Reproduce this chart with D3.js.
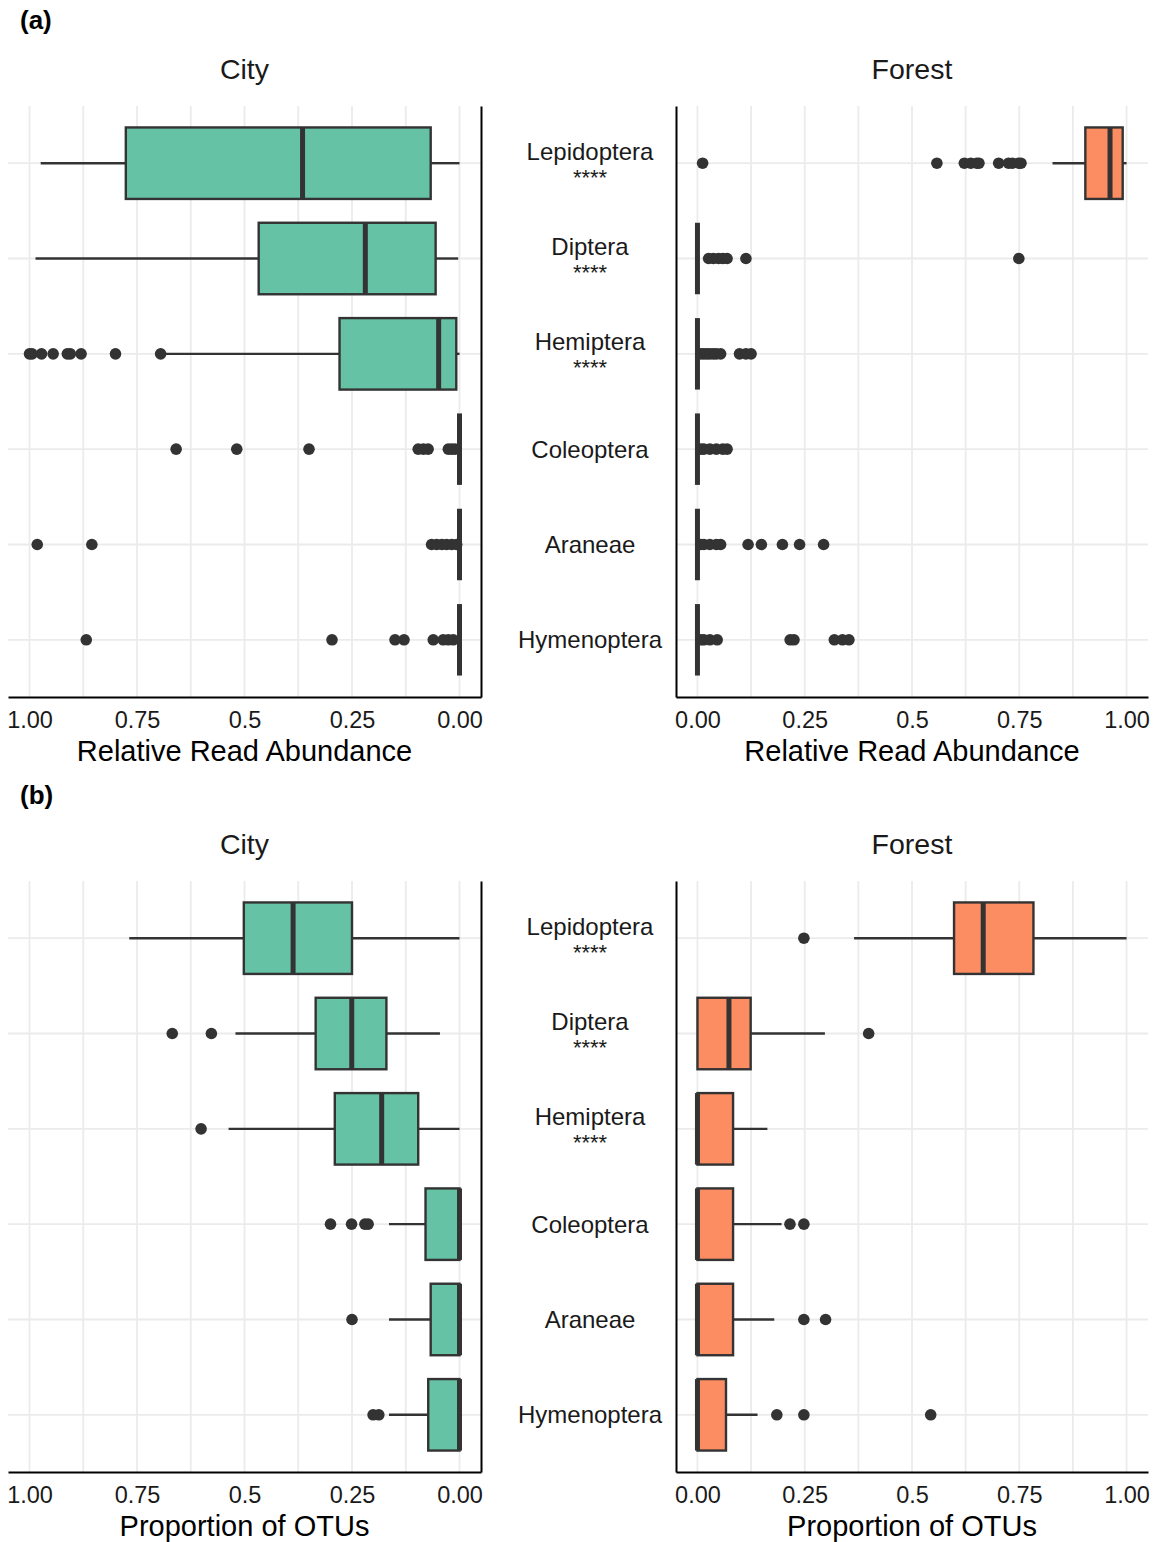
<!DOCTYPE html>
<html>
<head>
<meta charset="utf-8">
<script src="https://cdn.jsdelivr.net/npm/d3@7"></script>
<style>
  body { margin: 0; background: #fff; }
  svg { display: block; font-family: "Liberation Sans", Arial, Helvetica, sans-serif; }
</style>
</head>
<body>
<svg id="chart" width="1159" height="1542"></svg>
<script>
// ---------------- DATA ----------------
const categories = ["Lepidoptera", "Diptera", "Hemiptera", "Coleoptera", "Araneae", "Hymenoptera"];
const significance = ["****", "****", "****", "", "", ""];
const panelTitles = ["City", "Forest"];
const majorTicks = [0, 0.25, 0.5, 0.75, 1];
const majorTickLabels = ["0.00", "0.25", "0.5", "0.75", "1.00"];
const minorTicks = [0.125, 0.375, 0.625, 0.875];

// box stats: [lower whisker, Q1, median, Q3, upper whisker]
// (a) Relative Read Abundance
const abundCityStats = [
  [0.000, 0.067, 0.365, 0.776, 0.974],
  [0.003, 0.0555, 0.219, 0.467, 0.986],
  [0.000, 0.0075, 0.0485, 0.279, 0.685],
  [0, 0, 0, 0, 0],
  [0, 0, 0, 0, 0],
  [0, 0, 0, 0, 0]
];
const abundCityOutliers = [
  [],
  [],
  [0.695, 0.80, 0.88, 0.905, 0.912, 0.945, 0.972, 0.994, 1.0],
  [0.0105, 0.018, 0.026, 0.073, 0.084, 0.096, 0.350, 0.518, 0.659],
  [0.0065, 0.018, 0.030, 0.041, 0.053, 0.065, 0.855, 0.982],
  [0.0145, 0.026, 0.038, 0.061, 0.129, 0.150, 0.2965, 0.868]
];
const abundForestStats = [
  [0.8275, 0.904, 0.9615, 0.991, 1.0],
  [0, 0, 0, 0, 0],
  [0, 0, 0, 0, 0],
  [0, 0, 0, 0, 0],
  [0, 0, 0, 0, 0],
  [0, 0, 0, 0, 0]
];
const abundForestOutliers = [
  [0.012, 0.558, 0.622, 0.637, 0.651, 0.656, 0.702, 0.725, 0.734, 0.749, 0.754],
  [0.026, 0.037, 0.049, 0.059, 0.069, 0.113, 0.749],
  [0.008, 0.015, 0.022, 0.029, 0.037, 0.044, 0.054, 0.098, 0.113, 0.125],
  [0.008, 0.015, 0.029, 0.044, 0.059, 0.069],
  [0.008, 0.015, 0.029, 0.044, 0.054, 0.118, 0.149, 0.198, 0.238, 0.294],
  [0.008, 0.015, 0.029, 0.046, 0.216, 0.225, 0.319, 0.338, 0.353]
];

// (b) Proportion of OTUs
const otuCityStats = [
  [0.000, 0.250, 0.387, 0.5016, 0.768],
  [0.0455, 0.170, 0.2506, 0.3345, 0.521],
  [0.000, 0.096, 0.181, 0.290, 0.537],
  [0, 0, 0, 0.079, 0.164],
  [0, 0, 0, 0.067, 0.164],
  [0, 0, 0, 0.0727, 0.164]
];
const otuCityOutliers = [
  [],
  [0.577, 0.668],
  [0.601],
  [0.2125, 0.220, 0.251, 0.300],
  [0.250],
  [0.1876, 0.201]
];
const otuForestStats = [
  [0.365, 0.598, 0.666, 0.783, 1.0],
  [0, 0, 0.0734, 0.124, 0.297],
  [0, 0, 0, 0.083, 0.163],
  [0, 0, 0, 0.083, 0.196],
  [0, 0, 0, 0.083, 0.179],
  [0, 0, 0, 0.0665, 0.140]
];
const otuForestOutliers = [
  [0.248],
  [0.399],
  [],
  [0.2156, 0.248],
  [0.248, 0.2986],
  [0.185, 0.248, 0.5436]
];

const cityFill = "#66C2A5";
const forestFill = "#FC8D62";
const boxLine = "#333333";
const gridColor = "#EBEBEB";

// ---------------- DRAWING ----------------
const svg = d3.select("#chart");

function drawPanel(opt) {
  const { x0, x1, top, bottom, reversed, stats, outliers, fill, title, axisTitle, side } = opt;
  const g = svg.append("g");
  const x = d3.scaleLinear().domain(reversed ? [1.05, -0.05] : [-0.05, 1.05]).range([x0, x1]);
  const y = d3.scalePoint().domain(categories).range([top, bottom]).padding(0.6);
  const bh = y.step() * 0.75;

  // grid
  g.append("g").selectAll("line.v").data(minorTicks.concat(majorTicks)).join("line")
    .attr("x1", d => x(d)).attr("x2", d => x(d))
    .attr("y1", top).attr("y2", bottom)
    .attr("stroke", gridColor).attr("stroke-width", 1.8);
  g.append("g").selectAll("line.h").data(categories).join("line")
    .attr("x1", x0).attr("x2", x1)
    .attr("y1", d => y(d)).attr("y2", d => y(d))
    .attr("stroke", gridColor).attr("stroke-width", 1.8);

  // x axis
  const xAxis = d3.axisBottom(x).tickValues(majorTicks)
    .tickFormat((d, i) => majorTickLabels[i]).tickSize(0).tickSizeOuter(0).tickPadding(14.5);
  const xa = g.append("g").attr("transform", `translate(0,${bottom})`).call(xAxis);
  xa.select(".domain").attr("stroke", "#000").attr("stroke-width", 2);
  xa.selectAll("text").attr("font-size", 23.5).attr("fill", "#1a1a1a")
    .attr("font-family", "Liberation Sans, Arial, sans-serif");

  // y axis
  if (side === "right") {
    const ya = g.append("g").attr("transform", `translate(${x1},0)`)
      .call(d3.axisRight(y).tickSize(0).tickSizeOuter(0).tickFormat(""));
    ya.select(".domain").attr("stroke", "#000").attr("stroke-width", 2);
  } else {
    const ya = g.append("g").attr("transform", `translate(${x0},0)`)
      .call(d3.axisLeft(y).tickSize(0).tickSizeOuter(0).tickPadding(86));
    ya.select(".domain").attr("stroke", "#000").attr("stroke-width", 2);
    ya.selectAll(".tick text").each(function(d, i) {
      const t = d3.select(this);
      t.text(null).attr("text-anchor", "middle").attr("font-size", 24)
        .attr("fill", "#1a1a1a").attr("dy", null)
        .attr("font-family", "Liberation Sans, Arial, sans-serif");
      const s = significance[categories.indexOf(d)];
      if (s) {
        t.append("tspan").attr("x", -86).attr("y", -4).text(d);
        t.append("tspan").attr("x", -86).attr("y", 21).attr("font-size", 22).text(s);
      } else {
        t.append("tspan").attr("x", -86).attr("y", 8).text(d);
      }
    });
  }

  // boxes
  const boxes = g.append("g").selectAll("g").data(categories).join("g");
  boxes.each(function(c, i) {
    const b = d3.select(this);
    const [lo, q1, md, q3, hi] = stats[i];
    const cy = y(c);
    // outliers
    b.selectAll("circle").data(outliers[i]).join("circle")
      .attr("cx", d => x(d)).attr("cy", cy).attr("r", 5.8).attr("fill", boxLine);
    // whiskers
    b.append("line").attr("x1", x(lo)).attr("x2", x(q1)).attr("y1", cy).attr("y2", cy)
      .attr("stroke", boxLine).attr("stroke-width", 2.4);
    b.append("line").attr("x1", x(q3)).attr("x2", x(hi)).attr("y1", cy).attr("y2", cy)
      .attr("stroke", boxLine).attr("stroke-width", 2.4);
    // box
    const xa1 = Math.min(x(q1), x(q3)), xa2 = Math.max(x(q1), x(q3));
    b.append("rect").attr("x", xa1).attr("y", cy - bh / 2).attr("width", xa2 - xa1).attr("height", bh)
      .attr("fill", fill).attr("stroke", boxLine).attr("stroke-width", 2.4);
    // median
    b.append("line").attr("x1", x(md)).attr("x2", x(md)).attr("y1", cy - bh / 2).attr("y2", cy + bh / 2)
      .attr("stroke", boxLine).attr("stroke-width", 5);
  });

  // titles
  svg.append("text").attr("x", (x0 + x1) / 2).attr("y", top - 27).attr("text-anchor", "middle")
    .attr("font-size", 28.5).attr("fill", "#1a1a1a").text(title);
  svg.append("text").attr("x", (x0 + x1) / 2).attr("y", bottom + 64).attr("text-anchor", "middle")
    .attr("font-size", 29).attr("fill", "#000").text(axisTitle);
}

const panels = [
  { tag: "(a)", top: 106, bottom: 697, axisTitle: "Relative Read Abundance",
    city: [abundCityStats, abundCityOutliers], forest: [abundForestStats, abundForestOutliers] },
  { tag: "(b)", top: 881, bottom: 1472, axisTitle: "Proportion of OTUs",
    city: [otuCityStats, otuCityOutliers], forest: [otuForestStats, otuForestOutliers] }
];

panels.forEach(p => {
  svg.append("text").attr("x", 20).attr("y", p.top - 77).attr("font-size", 26)
    .attr("font-weight", "bold").attr("fill", "#000").text(p.tag);
  drawPanel({ x0: 8, x1: 481, top: p.top, bottom: p.bottom, reversed: true,
    stats: p.city[0], outliers: p.city[1], fill: cityFill, title: panelTitles[0],
    axisTitle: p.axisTitle, side: "right" });
  drawPanel({ x0: 676, x1: 1148, top: p.top, bottom: p.bottom, reversed: false,
    stats: p.forest[0], outliers: p.forest[1], fill: forestFill, title: panelTitles[1],
    axisTitle: p.axisTitle, side: "left" });
});
</script>
</body>
</html>
